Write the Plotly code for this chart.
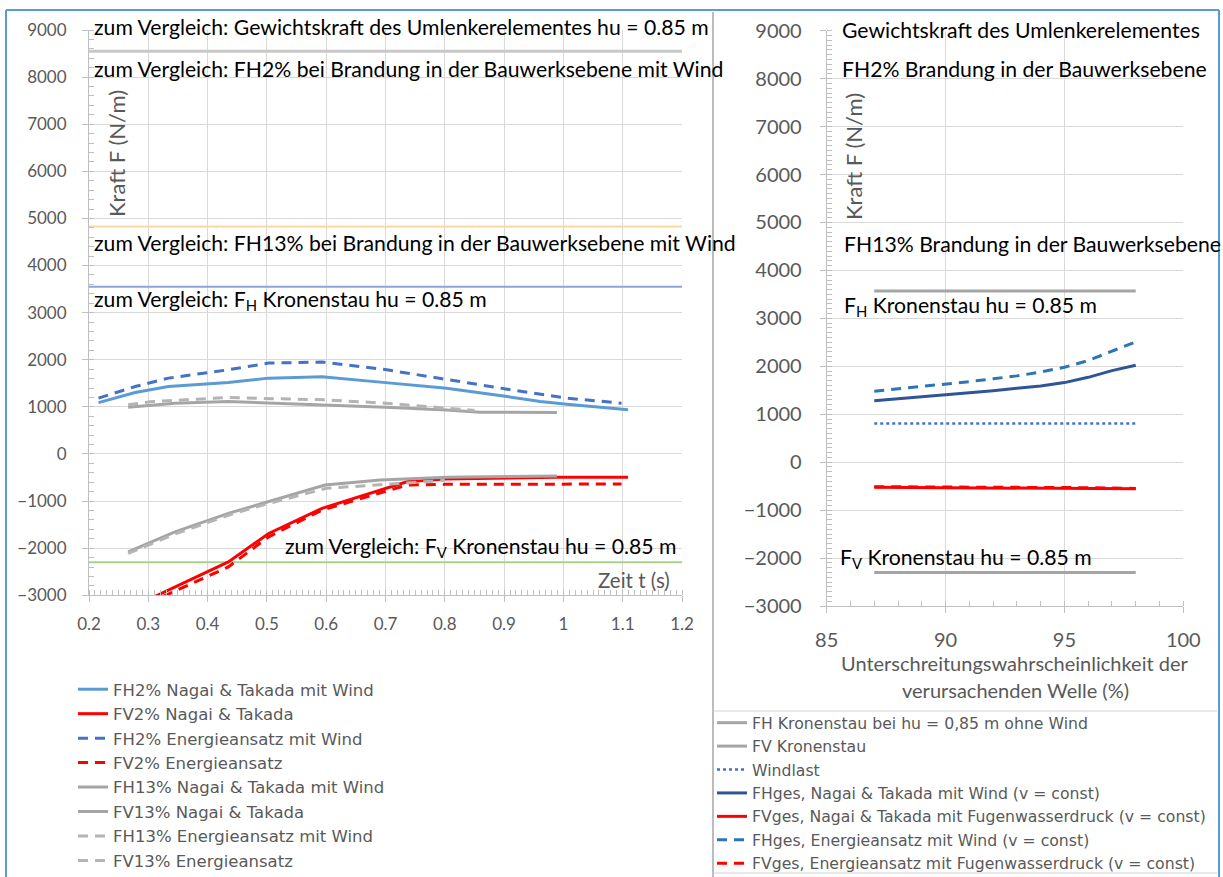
import plotly.graph_objects as go

W, H = 1223, 877
FONT = "Lato"
LEGFONT = "DejaVu Sans"

# ---------------- left chart data (Zeit t in s, Kraft in N/m) ----------------
fh2_nt_t = [0.216, 0.278, 0.334, 0.435, 0.503, 0.593, 0.691, 0.803, 0.905, 0.961, 1.006, 1.109]
fh2_nt_f = [1090, 1305, 1432, 1517, 1610, 1640, 1525, 1397, 1220, 1113, 1057, 940]

fv2_nt_t = [0.28, 0.309, 0.435, 0.503, 0.593, 0.700, 0.736, 0.80, 0.989, 1.109]
fv2_nt_f = [-3250, -3036, -2291, -1687, -1155, -730, -589, -530, -496, -496]

fh2_en_t = [0.216, 0.278, 0.334, 0.435, 0.503, 0.593, 0.702, 0.820, 0.905, 1.006, 1.098]
fh2_en_f = [1185, 1432, 1610, 1787, 1929, 1950, 1787, 1539, 1376, 1185, 1078]

fv2_en_t = [0.30, 0.323, 0.435, 0.503, 0.593, 0.700, 0.736, 0.80, 1.098]
fv2_en_f = [-3200, -3036, -2397, -1758, -1191, -790, -660, -645, -638]

fh13_nt_t = [0.266, 0.345, 0.435, 0.598, 0.700, 0.803, 0.859, 0.989]
fh13_nt_f = [993, 1078, 1113, 1043, 993, 936, 887, 879]

fv13_nt_t = [0.266, 0.345, 0.435, 0.503, 0.598, 0.691, 0.803, 0.989]
fv13_nt_f = [-2079, -1653, -1262, -1015, -660, -553, -496, -468]

fh13_en_t = [0.266, 0.306, 0.435, 0.598, 0.700, 0.780, 0.850]
fh13_en_f = [1043, 1113, 1198, 1149, 1078, 990, 925]

fv13_en_t = [0.266, 0.345, 0.435, 0.503, 0.600, 0.700, 0.800]
fv13_en_f = [-2110, -1700, -1300, -1050, -730, -640, -560]

# reference levels (left chart)
ref_gewicht = 8550
ref_fh2_brandung = 4830
ref_fh_kronenstau = 3550
ref_fv_kronenstau = -2300
left_x_range = [0.2, 1.2]

left_xticks = [0.2, 0.3, 0.4, 0.5, 0.6, 0.7, 0.8, 0.9, 1.0, 1.1, 1.2]
left_xtext = ["0.2", "0.3", "0.4", "0.5", "0.6", "0.7", "0.8", "0.9", "1", "1.1", "1.2"]

# ---------------- right chart data (Unterschreitungswahrscheinlichkeit %) ----------------
p_val = [87, 88, 89, 90, 91, 92, 93, 94, 95, 96, 97, 98]
fh_kronenstau = [3570] * 12
fv_kronenstau = [-2300] * 12
windlast = [805] * 12
fhges_nt = [1280, 1320, 1360, 1400, 1440, 1490, 1540, 1590, 1660, 1770, 1910, 2020]
fvges_nt = [-525, -527, -528, -530, -531, -532, -534, -536, -538, -542, -548, -555]
fhges_en = [1480, 1530, 1580, 1620, 1680, 1740, 1800, 1880, 1980, 2120, 2310, 2510]
fvges_en = [-512, -513, -514, -515, -516, -518, -520, -522, -526, -532, -540, -548]

y_ticks = [-3000, -2000, -1000, 0, 1000, 2000, 3000, 4000, 5000, 6000, 7000, 8000, 9000]
right_xticks = [85, 90, 95, 100]


def px(x):
    return x / W


def py(y):
    return 1 - y / H


fig = go.Figure()

DASH = "10px,7px"


def add(x, y, name, color, dash="solid", width=3, axis=1, show=True):
    fig.add_trace(go.Scatter(
        x=x, y=y, name=name, mode="lines",
        line=dict(color=color, width=width, dash=dash),
        xaxis="x" if axis == 1 else "x2", yaxis="y" if axis == 1 else "y2",
        legend="legend" if axis == 1 else "legend2",
        showlegend=show, cliponaxis=True,
    ))


# reference horizontal lines on left chart (not in legend)
add(left_x_range, [ref_gewicht] * 2, "ref1", "#C8C8C8", width=3, show=False)
add(left_x_range, [ref_fh2_brandung] * 2, "ref2", "#FFD999", width=2, show=False)
add(left_x_range, [ref_fh_kronenstau] * 2, "ref3", "#8FA3D8", width=2, show=False)
add(left_x_range, [ref_fv_kronenstau] * 2, "ref4", "#A9D18E", width=2, show=False)

add(fh2_nt_t, fh2_nt_f, "FH2% Nagai & Takada mit Wind", "#5B9BD5")
add(fv2_nt_t, fv2_nt_f, "FV2% Nagai & Takada", "#FF0000")
add(fh2_en_t, fh2_en_f, "FH2% Energieansatz mit Wind", "#4472C4", DASH)
add(fv2_en_t, fv2_en_f, "FV2% Energieansatz", "#FF0000", DASH)
add(fh13_nt_t, fh13_nt_f, "FH13% Nagai & Takada mit Wind", "#A5A5A5")
add(fv13_nt_t, fv13_nt_f, "FV13% Nagai & Takada", "#A5A5A5")
add(fh13_en_t, fh13_en_f, "FH13% Energieansatz mit Wind", "#B4B4B4", DASH)
add(fv13_en_t, fv13_en_f, "FV13% Energieansatz", "#B4B4B4", DASH)

add(p_val, fh_kronenstau, "FH Kronenstau bei hu = 0,85 m ohne Wind", "#A5A5A5", axis=2)
add(p_val, fv_kronenstau, "FV Kronenstau", "#A5A5A5", axis=2)
add(p_val, windlast, "Windlast", "#4472C4", "dot", 2.5, axis=2)
add(p_val, fhges_nt, "FHges, Nagai & Takada mit Wind (v = const)", "#2F5597", axis=2)
add(p_val, fvges_nt, "FVges, Nagai & Takada mit Fugenwasserdruck (v = const)", "#FF0000", axis=2)
add(p_val, fhges_en, "FHges, Energieansatz mit Wind (v = const)", "#2E75B6", DASH, axis=2)
add(p_val, fvges_en, "FVges, Energieansatz mit Fugenwasserdruck (v = const)", "#FF0000", DASH, axis=2)

GRID = "#D9D9D9"
AX = "#BFBFBF"
TICKC = "#595959"

common_axis = dict(showgrid=True, gridcolor=GRID, gridwidth=1, zeroline=False,
                   showline=True, linecolor=AX, linewidth=1, ticks="outside",
                   tickcolor=AX, ticklen=6, fixedrange=True, automargin=False)

fig.update_layout(
    width=W, height=H, margin=dict(l=0, r=0, t=0, b=0, autoexpand=False),
    paper_bgcolor="white", plot_bgcolor="white",
    font=dict(family=FONT, color=TICKC),
    xaxis=dict(domain=[px(89), px(682)], range=left_x_range, anchor="y",
               tickvals=left_xticks, ticktext=left_xtext,
               tickfont=dict(size=17, color=TICKC), ticklabelstandoff=7,
               minor=dict(dtick=0.01, ticks="inside", ticklen=5, tickcolor=AX, showgrid=False),
               **common_axis),
    yaxis=dict(domain=[py(595.3), py(30)], range=[-3000, 9000], anchor="x",
               tickvals=y_ticks, tickfont=dict(size=17, color=TICKC), ticklabelstandoff=12,
               minor=dict(dtick=200, ticks="inside", ticklen=5, tickcolor=AX, showgrid=False),
               **common_axis),
    xaxis2=dict(domain=[px(826.7), px(1183.3)], range=[85, 100], anchor="y2",
                tickvals=right_xticks, tickfont=dict(size=20, color=TICKC), ticklabelstandoff=10,
                minor=dict(dtick=1, ticks="inside", ticklen=5, tickcolor=AX, showgrid=False),
                **common_axis),
    yaxis2=dict(domain=[py(606), py(30.7)], range=[-3000, 9000], anchor="x2",
                tickvals=y_ticks, tickfont=dict(size=20, color=TICKC), ticklabelstandoff=14,
                minor=dict(dtick=100, ticks="inside", ticklen=5, tickcolor=AX, showgrid=False),
                **common_axis),
    legend=dict(x=px(73), y=py(672), xanchor="left", yanchor="top",
                font=dict(family=LEGFONT, size=16.5, color=TICKC), bgcolor="rgba(0,0,0,0)",
                tracegroupgap=0, itemclick=False, itemdoubleclick=False),
    legend2=dict(x=px(712), y=py(706), xanchor="left", yanchor="top",
                 font=dict(family=LEGFONT, size=15.7, color=TICKC), bgcolor="rgba(0,0,0,0)",
                 tracegroupgap=0, itemclick=False, itemdoubleclick=False),
    showlegend=True,
)

ann = []


def text(x, y, s, size=21.2, color="#000000", xanchor="left", angle=0):
    ann.append(dict(x=px(x), y=py(y), xref="paper", yref="paper", text=s,
                    showarrow=False, xanchor=xanchor, yanchor="middle",
                    font=dict(family=FONT, size=size, color=color), textangle=angle))


text(92, 27, "zum Vergleich: Gewichtskraft des Umlenkerelementes hu = 0.85 m")
text(92, 69, "zum Vergleich: FH2% bei Brandung in der Bauwerksebene mit Wind")
text(92, 243, "zum Vergleich: FH13% bei Brandung in der Bauwerksebene mit Wind")
text(92, 300, "zum Vergleich: F<sub>H</sub> Kronenstau hu = 0.85 m")
text(678, 547, "zum Vergleich: F<sub>V</sub> Kronenstau hu = 0.85 m", xanchor="right")
text(672, 580, "Zeit t (s)", size=20.5, color=TICKC, xanchor="right")
text(117, 154, "Kraft F (N/m)", size=22, color=TICKC, xanchor="center", angle=-90)

text(840, 30, "Gewichtskraft des Umlenkerelementes")
text(840, 69, "FH2% Brandung in der Bauwerksebene")
text(842, 244, "FH13% Brandung in der Bauwerksebene")
text(842, 306, "F<sub>H</sub> Kronenstau hu = 0.85 m")
text(838, 558, "F<sub>V</sub> Kronenstau hu = 0.85 m")
text(853, 157, "Kraft F (N/m)", size=22, color=TICKC, xanchor="center", angle=-90)
text(1015, 663, "Unterschreitungswahrscheinlichkeit der", size=20, color=TICKC, xanchor="center")
text(1015, 690, "verursachenden Welle (%)", size=20, color=TICKC, xanchor="center")

fig.update_layout(annotations=ann)

# chart frames
shapes = [
    dict(type="line", xref="paper", yref="paper", x0=px(6), x1=px(1219), y0=py(10), y1=py(10),
         line=dict(color="#5B9BD5", width=2)),
    dict(type="line", xref="paper", yref="paper", x0=px(6), x1=px(6), y0=py(10), y1=py(877),
         line=dict(color="#5B9BD5", width=2)),
    dict(type="line", xref="paper", yref="paper", x0=px(1219), x1=px(1219), y0=py(10), y1=py(877),
         line=dict(color="#5B9BD5", width=2)),
    dict(type="line", xref="paper", yref="paper", x0=px(713), x1=px(713), y0=py(12), y1=py(877),
         line=dict(color="#A6A6A6", width=1.5)),
    dict(type="line", xref="paper", yref="paper", x0=px(713), x1=px(1217), y0=py(711), y1=py(711),
         line=dict(color="#D0D0D0", width=1)),
    dict(type="line", xref="paper", yref="paper", x0=px(713), x1=px(1217), y0=py(873), y1=py(873),
         line=dict(color="#D0D0D0", width=1)),
]
fig.update_layout(shapes=shapes)

fig.write_html("out.html", config={"displayModeBar": False},
               post_script="document.body.style.margin='0';document.body.style.overflow='hidden';")
